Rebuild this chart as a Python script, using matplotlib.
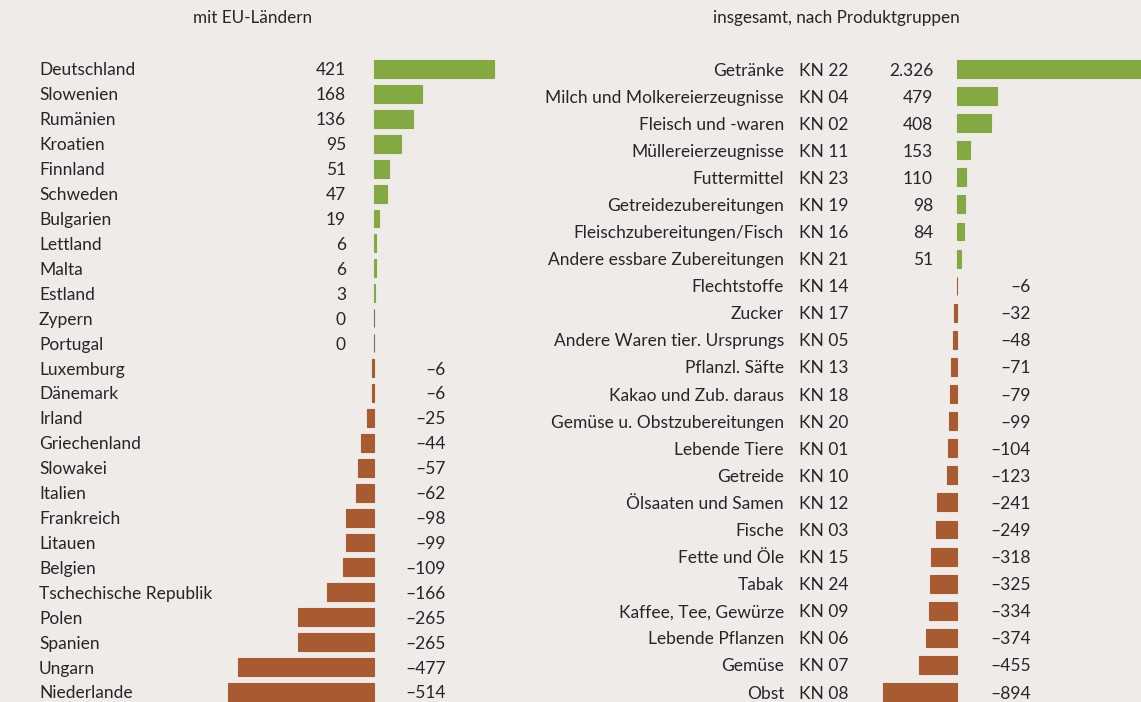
import matplotlib.pyplot as plt
from matplotlib.transforms import blended_transform_factory

plt.rcParams['font.family'] = ['Lato', 'DejaVu Sans']

# Linke Tafel: mit EU-Ländern
laender = ["Deutschland", "Slowenien", "Rumänien", "Kroatien", "Finnland", "Schweden",
           "Bulgarien", "Lettland", "Malta", "Estland", "Zypern", "Portugal", "Luxemburg",
           "Dänemark", "Irland", "Griechenland", "Slowakei", "Italien", "Frankreich",
           "Litauen", "Belgien", "Tschechische Republik", "Polen", "Spanien", "Ungarn",
           "Niederlande"]
laender_werte = [421, 168, 136, 95, 51, 47, 19, 6, 6, 3, 0, 0, -6, -6, -25, -44, -57,
                 -62, -98, -99, -109, -166, -265, -265, -477, -514]

# Rechte Tafel: nach Produktgruppen
gruppen = ["Getränke", "Milch und Molkereierzeugnisse", "Fleisch und -waren",
           "Müllereierzeugnisse", "Futtermittel", "Getreidezubereitungen",
           "Fleischzubereitungen/Fisch", "Andere essbare Zubereitungen", "Flechtstoffe",
           "Zucker", "Andere Waren tier. Ursprungs", "Pflanzl. Säfte",
           "Kakao und Zub. daraus", "Gemüse u. Obstzubereitungen", "Lebende Tiere",
           "Getreide", "Ölsaaten und Samen", "Fische", "Fette und Öle", "Tabak",
           "Kaffee, Tee, Gewürze", "Lebende Pflanzen", "Gemüse", "Obst"]
kn_codes = ["KN 22", "KN 04", "KN 02", "KN 11", "KN 23", "KN 19", "KN 16", "KN 21",
            "KN 14", "KN 17", "KN 05", "KN 13", "KN 18", "KN 20", "KN 01", "KN 10",
            "KN 12", "KN 03", "KN 15", "KN 24", "KN 09", "KN 06", "KN 07", "KN 08"]
gruppen_werte = [2326, 479, 408, 153, 110, 98, 84, 51, -6, -32, -48, -71, -79, -99,
                 -104, -123, -241, -249, -318, -325, -334, -374, -455, -894]

BG = "#eeebe8"
GRUEN = "#84a942"
BRAUN = "#a85a30"
GRAU = "#6e6e6e"
TXT = "#262626"
W, H = 1141, 702
FS = 12.5


def fmt(v):
    s = f"{abs(v):,}".replace(",", ".")
    return ("\u2013" + s) if v < 0 else s


def farbe(v):
    if v > 0:
        return GRUEN
    if v < 0:
        return BRAUN
    return GRAU


def panel(fig, x0, x1, zero_px, px_per_unit, y_first, y_last, n):
    step = (y_last - y_first) / (n - 1)
    top = y_first - step / 2
    bottom = y_last + step / 2
    ax = fig.add_axes([x0 / W, 1 - bottom / H, (x1 - x0) / W, (bottom - top) / H])
    ax.set_xlim(-(zero_px - x0) / px_per_unit, (x1 - zero_px) / px_per_unit)
    ax.set_ylim(n - 0.5, -0.5)
    ax.axis("off")
    return ax


fig = plt.figure(figsize=(W / 100, H / 100), dpi=100)
fig.patch.set_facecolor(BG)

# ---- links
n1 = len(laender)
ax1 = panel(fig, 200, 520, 374, 0.285, 69, 692, n1)
y1 = list(range(n1))
ax1.barh(y1, laender_werte, height=0.72, color=[farbe(v) for v in laender_werte],
         edgecolor=[farbe(v) for v in laender_werte], linewidth=0.8)
tr1 = blended_transform_factory(fig.transFigure, ax1.transData)
for i, (name, v) in enumerate(zip(laender, laender_werte)):
    ax1.text(39 / W, i, name, transform=tr1, ha="left", va="center_baseline",
             fontsize=FS, color=TXT)
    xs = 346 if v >= 0 else 446
    ax1.text(xs / W, i, fmt(v), transform=tr1, ha="right", va="center_baseline",
             fontsize=FS, color=TXT)
fig.text(253 / W, 1 - 18 / H, "mit EU-Ländern", ha="center", va="center",
         fontsize=12.3, color=TXT)

# ---- rechts
n2 = len(gruppen)
ax2 = panel(fig, 860, W, 957, 0.083, 69, 692, n2)
y2 = list(range(n2))
ax2.barh(y2, gruppen_werte, height=0.66, color=[farbe(v) for v in gruppen_werte],
         edgecolor=[farbe(v) for v in gruppen_werte], linewidth=0.8)
tr2 = blended_transform_factory(fig.transFigure, ax2.transData)
for i, (name, kn, v) in enumerate(zip(gruppen, kn_codes, gruppen_werte)):
    ax2.text(784 / W, i, name, transform=tr2, ha="right", va="center_baseline",
             fontsize=FS, color=TXT)
    ax2.text(799 / W, i, kn, transform=tr2, ha="left", va="center_baseline",
             fontsize=FS, color=TXT)
    xs = 933 if v >= 0 else 1031
    ax2.text(xs / W, i, fmt(v), transform=tr2, ha="right", va="center_baseline",
             fontsize=FS, color=TXT)
fig.text(836 / W, 1 - 18 / H, "insgesamt, nach Produktgruppen", ha="center", va="center",
         fontsize=12.3, color=TXT)

fig.savefig("out.png", dpi=100, facecolor=BG)
